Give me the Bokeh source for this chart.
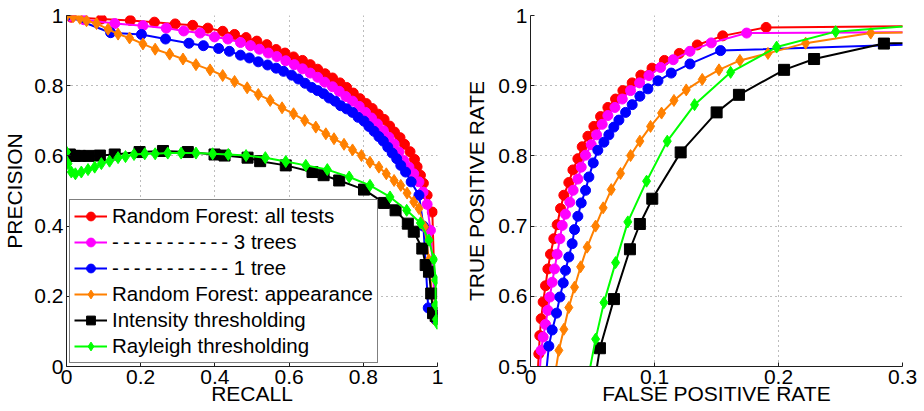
from bokeh.plotting import figure
from bokeh.layouts import row
from bokeh.models import Legend, LegendItem, FixedTicker, Range1d
from bokeh.embed import file_html
from bokeh.resources import INLINE

# ---------------- Precision / recall data ----------------
ALL_RECALL = [0.013, 0.094, 0.172, 0.237, 0.293, 0.340, 0.381, 0.421, 0.453, 0.484, 0.513, 0.540,
              0.565, 0.589, 0.612, 0.636, 0.657, 0.677, 0.697, 0.717, 0.737, 0.755, 0.773, 0.791,
              0.808, 0.824, 0.840, 0.856, 0.871, 0.884, 0.899, 0.911, 0.926, 0.938, 0.945, 0.954,
              0.962, 0.972, 0.986, 0.995]
ALL_PREC = [0.995, 0.990, 0.986, 0.981, 0.976, 0.972, 0.964, 0.955, 0.946, 0.937, 0.927, 0.917,
            0.903, 0.893, 0.882, 0.872, 0.860, 0.847, 0.834, 0.822, 0.808, 0.795, 0.779, 0.763,
            0.749, 0.735, 0.719, 0.704, 0.685, 0.668, 0.652, 0.633, 0.612, 0.590, 0.569, 0.545,
            0.522, 0.488, 0.440, 0.133]

T3_RECALL = [0.010, 0.047, 0.130, 0.206, 0.269, 0.316, 0.360, 0.399, 0.435, 0.469, 0.496, 0.520,
             0.544, 0.567, 0.591, 0.614, 0.636, 0.657, 0.677, 0.696, 0.717, 0.735, 0.753, 0.771,
             0.789, 0.806, 0.822, 0.838, 0.854, 0.869, 0.883, 0.896, 0.909, 0.923, 0.936, 0.950,
             0.961, 0.972, 0.981, 0.995]
T3_PREC = [0.998, 0.988, 0.977, 0.971, 0.964, 0.956, 0.950, 0.939, 0.933, 0.923, 0.914, 0.904,
           0.893, 0.883, 0.871, 0.860, 0.848, 0.836, 0.824, 0.810, 0.797, 0.784, 0.769, 0.756,
           0.741, 0.724, 0.708, 0.691, 0.672, 0.653, 0.634, 0.611, 0.587, 0.568, 0.549, 0.526,
           0.497, 0.462, 0.388, 0.140]

T1_RECALL = [0.0, 0.119, 0.202, 0.267, 0.330, 0.369, 0.410, 0.439, 0.469, 0.493, 0.517, 0.542,
             0.565, 0.585, 0.607, 0.625, 0.643, 0.661, 0.677, 0.693, 0.708, 0.724, 0.739, 0.755,
             0.771, 0.786, 0.802, 0.815, 0.829, 0.842, 0.854, 0.866, 0.878, 0.890, 0.901, 0.914,
             0.929, 0.950, 0.962, 0.975, 0.995]
T1_PREC = [1.0, 0.951, 0.946, 0.933, 0.921, 0.914, 0.906, 0.898, 0.887, 0.879, 0.868, 0.859,
           0.850, 0.841, 0.830, 0.819, 0.807, 0.795, 0.786, 0.777, 0.765, 0.756, 0.743, 0.734,
           0.724, 0.710, 0.699, 0.684, 0.670, 0.655, 0.642, 0.625, 0.608, 0.592, 0.573, 0.554,
           0.526, 0.488, 0.400, 0.167, 0.135]

APP_RECALL = [0.0, 0.018, 0.036, 0.054, 0.081, 0.112, 0.139, 0.170, 0.206, 0.239, 0.278, 0.314,
              0.349, 0.387, 0.421, 0.453, 0.487, 0.517, 0.549, 0.581, 0.612, 0.642, 0.672, 0.699,
              0.721, 0.748, 0.771, 0.795, 0.818, 0.842, 0.862, 0.883, 0.901, 0.918, 0.936, 0.950,
              0.965, 0.977, 0.990]
APP_PREC = [0.999, 0.997, 0.992, 0.985, 0.977, 0.961, 0.947, 0.936, 0.919, 0.904, 0.890, 0.876,
            0.860, 0.845, 0.829, 0.812, 0.794, 0.775, 0.758, 0.737, 0.720, 0.701, 0.682, 0.663,
            0.649, 0.633, 0.617, 0.601, 0.582, 0.568, 0.549, 0.530, 0.516, 0.494, 0.469, 0.450,
            0.398, 0.303, 0.142]

INT_RECALL = [0.0, 0.009, 0.022, 0.036, 0.060, 0.090, 0.130, 0.197, 0.260, 0.327, 0.399, 0.426,
              0.488, 0.522, 0.591, 0.663, 0.693, 0.735, 0.802, 0.856, 0.887, 0.920, 0.936, 0.959,
              0.968, 0.977, 0.983, 0.988, 0.995]
INT_PREC = [0.600, 0.604, 0.600, 0.600, 0.600, 0.601, 0.604, 0.611, 0.614, 0.611, 0.604, 0.601,
            0.595, 0.585, 0.573, 0.554, 0.545, 0.530, 0.504, 0.466, 0.445, 0.407, 0.384, 0.336,
            0.289, 0.270, 0.208, 0.152, 0.144]

RAY_RECALL = [0.0, 0.004, 0.013, 0.024, 0.040, 0.058, 0.076, 0.094, 0.116, 0.139, 0.159, 0.182,
              0.211, 0.239, 0.273, 0.309, 0.349, 0.394, 0.436, 0.484, 0.536, 0.591, 0.645, 0.703,
              0.762, 0.818, 0.872, 0.917, 0.954, 0.977, 0.990, 0.995, 0.995, 0.997, 0.999]
RAY_PREC = [0.611, 0.578, 0.554, 0.549, 0.554, 0.561, 0.568, 0.578, 0.585, 0.595, 0.598, 0.604,
            0.606, 0.606, 0.608, 0.608, 0.608, 0.606, 0.604, 0.601, 0.595, 0.584, 0.573, 0.561,
            0.540, 0.516, 0.483, 0.445, 0.409, 0.360, 0.305, 0.246, 0.175, 0.134, 0.123]

# ---------------- ROC data ----------------
ALL_FPR = [0.005, 0.0067, 0.0075, 0.0086, 0.0102, 0.0121, 0.0140, 0.0161, 0.0188, 0.0215, 0.0242,
           0.0269, 0.0309, 0.0342, 0.0382, 0.0417, 0.0463, 0.0511, 0.0565, 0.0624, 0.0686, 0.0745,
           0.082, 0.089, 0.098, 0.108, 0.120, 0.1345, 0.155, 0.190, 0.40]
ALL_TPR = [0.47, 0.518, 0.544, 0.568, 0.592, 0.615, 0.639, 0.660, 0.682, 0.702, 0.725,
           0.744, 0.762, 0.780, 0.796, 0.813, 0.828, 0.842, 0.856, 0.869, 0.881, 0.893,
           0.904, 0.915, 0.925, 0.936, 0.946, 0.958, 0.971, 0.983, 0.986]

T3_FPR = [0.007, 0.0086, 0.0102, 0.0121, 0.0140, 0.0156, 0.0175, 0.0194, 0.0215, 0.0237, 0.0256,
          0.0282, 0.0317, 0.0344, 0.0382, 0.0409, 0.0444, 0.0490, 0.0533, 0.0578, 0.0624, 0.0681,
          0.0740, 0.0807, 0.0880, 0.0955, 0.1049, 0.1151, 0.1286, 0.1458, 0.1743, 0.40]
T3_TPR = [0.48, 0.523, 0.542, 0.560, 0.580, 0.599, 0.620, 0.639, 0.660, 0.682, 0.701,
          0.717, 0.734, 0.751, 0.767, 0.784, 0.801, 0.816, 0.830, 0.845, 0.8575, 0.869,
          0.881, 0.893, 0.904, 0.9145, 0.926, 0.937, 0.949, 0.961, 0.975, 0.977]

T1_FPR = [0.012, 0.0148, 0.0175, 0.0210, 0.0237, 0.0264, 0.0282, 0.0309, 0.0336, 0.0355, 0.0382,
          0.0409, 0.0444, 0.0471, 0.0506, 0.0543, 0.0592, 0.0632, 0.0672, 0.0713, 0.0767, 0.0820,
          0.0882, 0.0947, 0.1028, 0.1135, 0.1286, 0.1533, 0.40]
T1_TPR = [0.48, 0.529, 0.552, 0.576, 0.599, 0.619, 0.637, 0.656, 0.675, 0.695, 0.714,
          0.733, 0.751, 0.770, 0.790, 0.808, 0.8195, 0.830, 0.841, 0.851, 0.862, 0.873,
          0.885, 0.8955, 0.907, 0.918, 0.931, 0.950, 0.964]

APP_FPR = [0.019, 0.0229, 0.0269, 0.0309, 0.0355, 0.0404, 0.0457, 0.0525, 0.0586, 0.0651, 0.0726,
           0.0807, 0.0882, 0.0968, 0.1057, 0.1157, 0.1256, 0.1385, 0.1520, 0.1689, 0.1915, 0.2219,
           0.2744, 0.40]
APP_TPR = [0.48, 0.523, 0.553, 0.584, 0.613, 0.642, 0.670, 0.700, 0.726, 0.752, 0.775,
           0.8005, 0.821, 0.842, 0.861, 0.879, 0.894, 0.909, 0.9226, 0.936, 0.946, 0.9606,
           0.975, 0.978]

RAY_FPR = [0.045, 0.0525, 0.0592, 0.0686, 0.0785, 0.0936, 0.1103, 0.1323, 0.1614, 0.1985, 0.2461, 0.35]
RAY_TPR = [0.47, 0.539, 0.591, 0.648, 0.706, 0.764, 0.821, 0.873, 0.919, 0.955, 0.977, 0.991]

INT_FPR = [0.050, 0.0560, 0.0673, 0.0802, 0.0882, 0.0982, 0.1211, 0.1501, 0.1681, 0.2045, 0.2287, 0.285, 0.40]
INT_TPR = [0.46, 0.526, 0.596, 0.667, 0.703, 0.739, 0.805, 0.862, 0.887, 0.9226, 0.938, 0.960, 0.966]

# ---------------- labels / ticks ----------------
LABELS = ["Random Forest: all tests",
          "\u2009".join(["-"] * 11) + " 3 trees",
          "\u2009".join(["-"] * 11) + " 1 tree",
          "Random Forest: appearance",
          "Intensity thresholding",
          "Rayleigh thresholding"]
PR_TICKS = [0, 0.2, 0.4, 0.6, 0.8, 1]
PR_TICK_LABELS = ["0", "0.2", "0.4", "0.6", "0.8", "1"]
FPR_TICKS = [0, 0.1, 0.2, 0.3]
FPR_TICK_LABELS = ["0", "0.1", "0.2", "0.3"]
TPR_TICKS = [0.5, 0.6, 0.7, 0.8, 0.9, 1]
TPR_TICK_LABELS = ["0.5", "0.6", "0.7", "0.8", "0.9", "1"]

COLORS = ["#ff0000", "#ff00ff", "#0000ff", "#ff8000", "#000000", "#00ff00"]
MARKERS = ["circle", "circle", "circle", "diamond", "square", "diamond"]
SIZES = [10, 10, 10, 12, 11, 12]

FONT = "Liberation Sans"
FS = "21px"


def style(p, xticks, xlabels, yticks, ylabels, xlabel, ylabel, ylab_standoff):
    p.outline_line_color = None
    p.background_fill_color = "white"
    p.border_fill_color = "white"
    p.xaxis.ticker = FixedTicker(ticks=xticks)
    p.yaxis.ticker = FixedTicker(ticks=yticks)
    p.xaxis.major_label_overrides = dict(zip(xticks, xlabels))
    p.yaxis.major_label_overrides = dict(zip(yticks, ylabels))
    p.xaxis.axis_label = xlabel
    p.yaxis.axis_label = ylabel
    for ax in (p.xaxis[0], p.yaxis[0]):
        ax.axis_line_color = "#1e1e1e"
        ax.axis_line_width = 1
        ax.major_tick_in = 4
        ax.major_tick_out = 0
        ax.major_tick_line_color = "#1e1e1e"
        ax.minor_tick_line_color = None
        ax.major_label_text_font = FONT
        ax.major_label_text_font_size = FS
        ax.major_label_text_color = "black"
        ax.axis_label_text_font = FONT
        ax.axis_label_text_font_size = FS
        ax.axis_label_text_font_style = "normal"
        ax.axis_label_text_color = "black"
    p.xaxis.major_label_standoff = 3
    p.xaxis.axis_label_standoff = -5
    p.yaxis.major_label_standoff = 3
    p.yaxis.axis_label_standoff = ylab_standoff
    for g in (p.xgrid[0], p.ygrid[0]):
        g.grid_line_color = "#7a7a7a"
        g.grid_line_dash = "1 4"
        g.grid_line_width = 1


def draw(p, xs, ys):
    items = []
    for x, y, c, m, s, lab in zip(xs, ys, COLORS, MARKERS, SIZES, LABELS):
        r1 = p.line(x, y, line_color=c, line_width=2)
        r2 = p.scatter(x, y, marker=m, size=s, fill_color=c, line_color=c, line_width=1)
        items.append(LegendItem(label=lab, renderers=[r1, r2]))
    return items


FIG_H = 410

p1 = figure(width=460, height=FIG_H, output_backend="svg", toolbar_location=None,
            x_range=Range1d(0, 1), y_range=Range1d(0, 1),
            min_border_left=65, min_border_right=23, min_border_top=15, min_border_bottom=44)
style(p1, PR_TICKS, PR_TICK_LABELS, PR_TICKS, PR_TICK_LABELS, "RECALL", "PRECISION", 5)
items = draw(p1,
             [ALL_RECALL, T3_RECALL, T1_RECALL, APP_RECALL, INT_RECALL, RAY_RECALL],
             [ALL_PREC, T3_PREC, T1_PREC, APP_PREC, INT_PREC, RAY_PREC])
legend = Legend(items=items, location="bottom_left", margin=3, padding=4, spacing=2,
                glyph_width=33, glyph_height=22, label_height=22, label_standoff=5,
                label_text_font=FONT, label_text_font_size="20.5px", label_text_color="black",
                border_line_color="black", border_line_width=1.5, background_fill_alpha=1.0)
p1.add_layout(legend, "center")

p2 = figure(width=464, height=FIG_H, output_backend="svg", toolbar_location=None,
            x_range=Range1d(0, 0.3), y_range=Range1d(0.5, 1),
            min_border_left=70, min_border_right=22, min_border_top=15, min_border_bottom=44)
style(p2, FPR_TICKS, FPR_TICK_LABELS, TPR_TICKS, TPR_TICK_LABELS,
      "FALSE POSITIVE RATE", "TRUE POSITIVE RATE", 7)
draw(p2,
     [ALL_FPR, T3_FPR, T1_FPR, APP_FPR, INT_FPR, RAY_FPR],
     [ALL_TPR, T3_TPR, T1_TPR, APP_TPR, INT_TPR, RAY_TPR])

layout = row(p1, p2)
open("out.html", "w").write(file_html(layout, INLINE))
